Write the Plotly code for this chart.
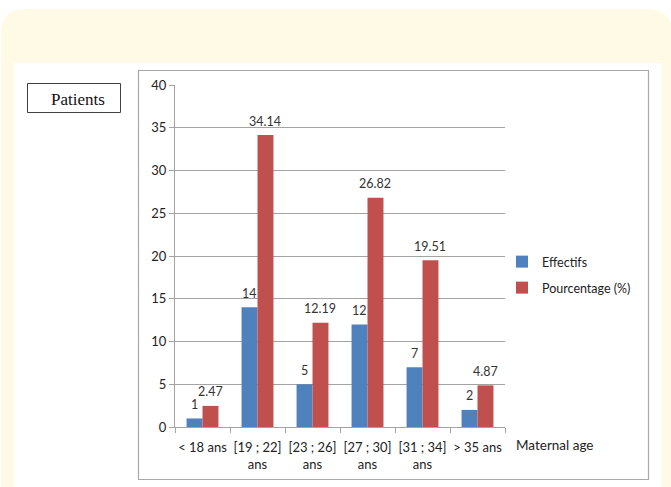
import plotly.graph_objects as go

# Age groups and counts / percentages
categories = ["< 18 ans", "[19 ; 22]<br>ans", "[23 ; 26]<br>ans",
              "[27 ; 30]<br>ans", "[31 ; 34]<br>ans", "> 35 ans"]
effectifs = [1, 14, 5, 12, 7, 2]
pourcentage = [2.47, 34.14, 12.19, 26.82, 19.51, 4.87]
pct_labels = ["2.47", "34.14", "12.19", "26.82", "19.51", "4.87"]
y_ticks = [0, 5, 10, 15, 20, 25, 30, 35, 40]

W, H = 671, 487
L, R, T, B = 175, 505, 85, 427  # plot area in pixels
BARGAP = 0.42


def px(x):
    return (x - L) / (R - L)


def py(y):
    return (B - y) / (B - T)


FONT = "Lato"
TXT = "#333333"
GRID = "#a3a3a3"

fig = go.Figure()
fig.add_trace(go.Bar(
    x=categories, y=effectifs, name="Effectifs",
    marker=dict(color="#4F81BD", line=dict(width=0)),
    showlegend=True, legend="legend",
))
fig.add_trace(go.Bar(
    x=categories, y=pourcentage, name="Pourcentage (%)",
    marker=dict(color="#C0504D", line=dict(width=0)),
    showlegend=True, legend="legend2",
))

# value labels above each bar (bar centres within a group of two)
half = (1 - BARGAP) / 4
annotations = []
for i, (v, lbl) in enumerate(zip(effectifs, [str(e) for e in effectifs])):
    annotations.append(dict(x=i - half, y=v, xref="x", yref="y", text=lbl,
                            showarrow=False, yanchor="middle", yshift=14,
                            font=dict(family=FONT, size=12.5, color=TXT)))
for i, (v, lbl) in enumerate(zip(pourcentage, pct_labels)):
    annotations.append(dict(x=i + half, y=v, xref="x", yref="y", text=lbl,
                            showarrow=False, yanchor="middle", yshift=14,
                            font=dict(family=FONT, size=12.5, color=TXT)))


def rounded_rect(x0, y0, x1, y1, r):
    # path in pixel space converted to paper coordinates
    pts = [
        ("M", x0, y0 + r), ("Q", x0, y0, x0 + r, y0),
        ("L", x1 - r, y0), ("Q", x1, y0, x1, y0 + r),
        ("L", x1, y1), ("L", x0, y1),
    ]
    s = ""
    for p in pts:
        if p[0] == "Q":
            s += f"Q{px(p[1])},{py(p[2])} {px(p[3])},{py(p[4])} "
        else:
            s += f"{p[0]}{px(p[1])},{py(p[2])} "
    return s + "Z"


shapes = [
    dict(type="path", xref="paper", yref="paper",
         path=rounded_rect(1, 9, 672, 520, 24),
         fillcolor="#FFFAE6", line=dict(width=0), layer="below"),
    dict(type="rect", xref="paper", yref="paper",
         x0=px(14), x1=px(662), y0=py(63), y1=py(520),
         fillcolor="white", line=dict(width=0), layer="below"),
    dict(type="rect", xref="paper", yref="paper",
         x0=px(138.5), x1=px(648.5), y0=py(70.5), y1=py(479.5),
         fillcolor="rgba(0,0,0,0)", line=dict(color="#a8a8a8", width=1.2),
         layer="below"),
    dict(type="rect", xref="paper", yref="paper",
         x0=px(27.5), x1=px(120.5), y0=py(83.5), y1=py(112.5),
         fillcolor="white", line=dict(color="#404040", width=1),
         layer="below"),
]

annotations += [
    dict(text="Patients", xref="paper", yref="paper",
         x=px(78), y=py(99), xanchor="center", yanchor="middle",
         showarrow=False,
         font=dict(family="Liberation Serif", size=17, color="#111111")),
    dict(text="Maternal age", xref="paper", yref="paper",
         x=px(514), y=py(445), xanchor="left", yanchor="middle",
         showarrow=False, font=dict(family=FONT, size=13.5, color="#222222")),
]

fig.update_layout(
    width=W, height=H,
    margin=dict(l=L, r=W - R, t=T, b=H - B, pad=0),
    paper_bgcolor="white", plot_bgcolor="rgba(0,0,0,0)",
    barmode="group", bargap=BARGAP, bargroupgap=0,
    shapes=shapes, annotations=annotations,
    font=dict(family=FONT, color=TXT),
    showlegend=True,
    legend=dict(x=px(502), y=py(262), xanchor="left", yanchor="middle",
                bgcolor="rgba(0,0,0,0)", itemwidth=30,
                font=dict(size=12.5, color="#222222", family=FONT)),
    legend2=dict(x=px(502), y=py(288), xanchor="left", yanchor="middle",
                 bgcolor="rgba(0,0,0,0)", itemwidth=30,
                 font=dict(size=12.5, color="#222222", family=FONT)),
    xaxis=dict(showline=True, linecolor=GRID, linewidth=1,
               ticks="outside", tickson="boundaries", ticklen=5,
               tickcolor=GRID, showgrid=False, tickangle=0,
               automargin=False, ticklabelstandoff=8,
               tickfont=dict(size=13, color="#222222", family=FONT)),
    yaxis=dict(range=[0, 40], tickvals=y_ticks, showline=True,
               linecolor=GRID, linewidth=1, ticks="outside", ticklen=5,
               tickcolor=GRID, showgrid=True, gridcolor=GRID, gridwidth=1,
               zeroline=False, automargin=False,
               tickfont=dict(size=13, color="#222222", family=FONT)),
)

fig.write_html("out.html")
